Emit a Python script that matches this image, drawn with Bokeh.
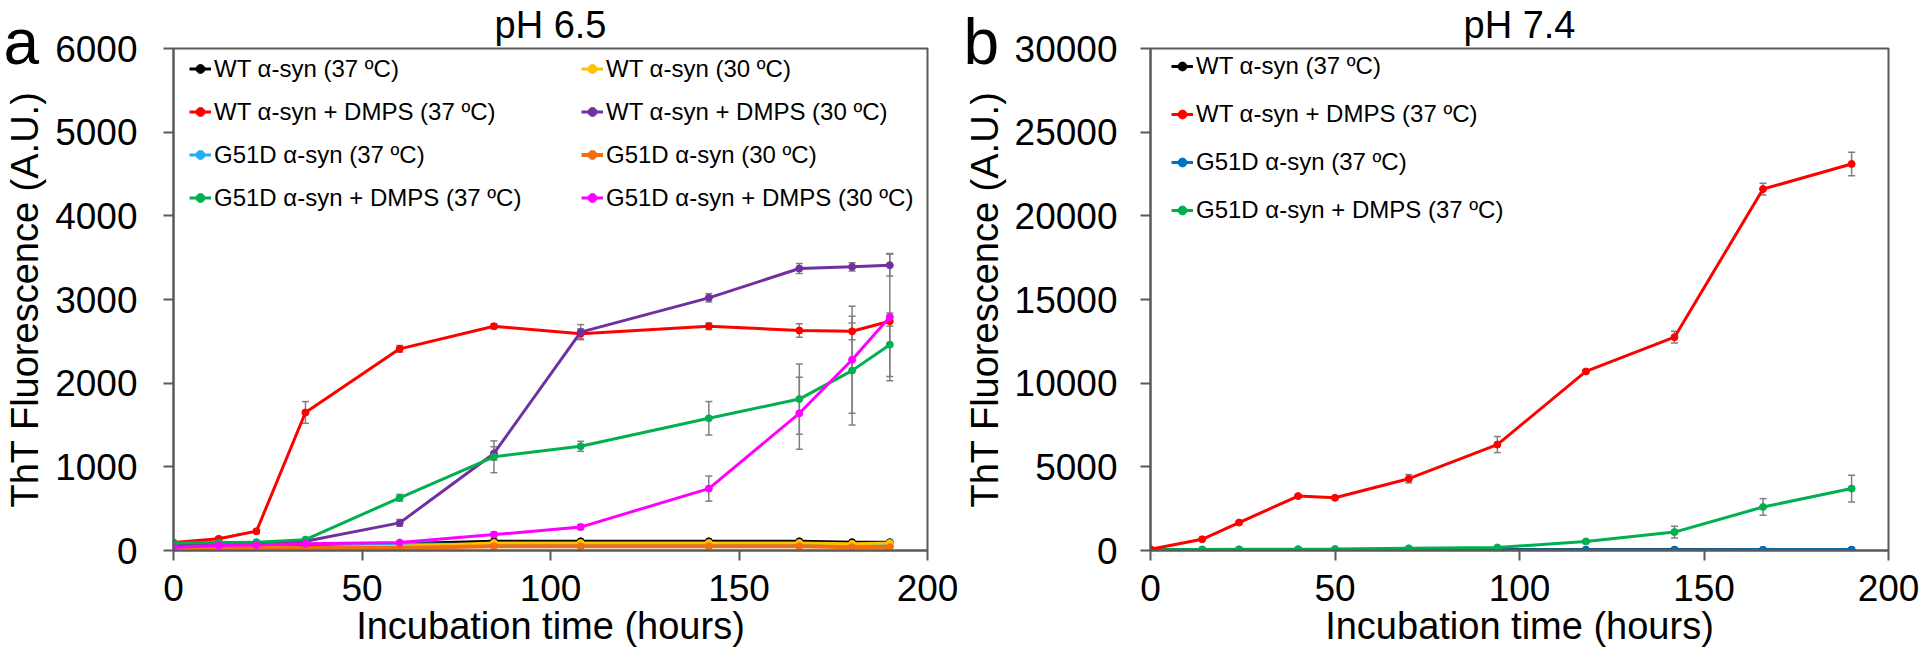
from bokeh.plotting import figure
from bokeh.models import (Range1d, Legend, LegendItem, Whisker, ColumnDataSource,
                          Title, TeeHead, FixedTicker)
from bokeh.layouts import row
from bokeh.embed import file_html
from bokeh.resources import INLINE

# ---------------- data: panel a (pH 6.5) ----------------
time_a = [0, 12, 22, 35, 60, 85, 108, 142, 166, 180, 190]
wt37_a = [60, 70, 70, 70, 80, 110, 110, 110, 110, 100, 100]
wt30_a = [30, 40, 40, 40, 50, 90, 90, 90, 90, 80, 90]
wt_dmps37_a = [95, 140, 230, 1650, 2410, 2680, 2590, 2680, 2630, 2620, 2740]
wt_dmps37_a_err = [20, 20, 20, 130, 40, 30, 60, 40, 80, 100, 60]
wt_dmps30_a = [70, 85, 90, 110, 330, 1160, 2610, 3020, 3370, 3390, 3410]
wt_dmps30_a_err = [10, 10, 10, 20, 40, 80, 90, 50, 60, 50, 130]
g51d37_a = [70, 75, 75, 80, 80, 70, 60, 60, 60, 60, 60]
g51d30_a = [20, 25, 25, 30, 30, 50, 50, 50, 50, 40, 40]
g51d_dmps37_a = [90, 95, 100, 130, 630, 1120, 1245, 1580, 1810, 2150, 2460]
g51d_dmps37_a_err = [10, 10, 10, 20, 40, 190, 60, 200, 420, 650, 380]
g51d_dmps30_a = [40, 60, 65, 80, 95, 190, 280, 740, 1640, 2280, 2790]
g51d_dmps30_a_err = [10, 10, 10, 10, 20, 30, 30, 150, 430, 640, 760]

# ---------------- data: panel b (pH 7.4) ----------------
time_b = [0, 14, 24, 40, 50, 70, 94, 118, 142, 166, 190]
wt37_b = [40, 40, 40, 40, 40, 40, 40, 40, 40, 40, 40]
wt_dmps37_b = [80, 670, 1670, 3250, 3150, 4290, 6330, 10700, 12750, 21600, 23100]
wt_dmps37_b_err = [30, 60, 60, 80, 80, 250, 480, 100, 350, 350, 700]
g51d37_b = [30, 30, 30, 30, 30, 30, 30, 30, 30, 40, 40]
g51d_dmps37_b = [50, 60, 70, 80, 90, 130, 180, 540, 1100, 2600, 3700]
g51d_dmps37_b_err = [10, 10, 10, 10, 10, 20, 30, 80, 350, 500, 800]

x_ticks = [0, 50, 100, 150, 200]
y_ticks_a = [0, 1000, 2000, 3000, 4000, 5000, 6000]
y_ticks_b = [0, 5000, 10000, 15000, 20000, 25000, 30000]

FONT = "Liberation Sans"
AX = "#595959"
GRAY = "#808080"


def make_fig(title, panel_letter, letter_offset, ymax, yticks, mbl, mbr, mbt, mbb, ylab_standoff):
    p = figure(width=960, height=664, x_range=Range1d(0, 200), y_range=Range1d(0, ymax),
               output_backend="svg", toolbar_location=None,
               min_border_left=mbl, min_border_right=mbr,
               min_border_top=mbt, min_border_bottom=mbb)
    # panel title (outermost in the "above" panel)
    p.title.text = title
    p.title.align = "center"
    p.title.text_font = FONT
    p.title.text_font_size = "38px"
    p.title.text_font_style = "normal"
    p.title.text_color = "black"
    p.title.standoff = -19
    # panel letter (closest to the frame, little room taken)
    p.add_layout(Title(text=panel_letter, align="left", offset=letter_offset,
                       vertical_align="top", standoff=-62, text_font=FONT,
                       text_font_size="64px", text_font_style="normal",
                       text_color="black"), "above")
    p.xgrid.visible = False
    p.ygrid.visible = False
    p.outline_line_color = AX
    p.outline_line_width = 2
    p.background_fill_color = "white"
    p.border_fill_color = "white"
    p.xaxis.ticker = FixedTicker(ticks=x_ticks)
    p.yaxis.ticker = FixedTicker(ticks=yticks)
    for ax in (p.xaxis[0], p.yaxis[0]):
        ax.axis_line_color = AX
        ax.axis_line_width = 2
        ax.major_tick_line_color = AX
        ax.major_tick_line_width = 2
        ax.major_tick_in = 0
        ax.major_tick_out = 10
        ax.minor_tick_line_color = None
        ax.major_label_text_font = FONT
        ax.major_label_text_font_size = "37px"
        ax.major_label_text_color = "black"
        ax.axis_label_text_font = FONT
        ax.axis_label_text_font_size = "38px"
        ax.axis_label_text_font_style = "normal"
        ax.axis_label_text_color = "black"
    p.xaxis.axis_label = "Incubation time (hours)"
    p.xaxis.major_label_standoff = 14
    p.xaxis.axis_label_standoff = 1
    p.yaxis.axis_label = "ThT Fluorescence (A.U.)"
    p.yaxis.major_label_standoff = ylab_standoff
    p.yaxis.axis_label_standoff = 6
    return p


def series(p, x, y, color, err=None, lw=3):
    if err is not None:
        src = ColumnDataSource(dict(x=x, upper=[a + b for a, b in zip(y, err)],
                                    lower=[a - b for a, b in zip(y, err)]))
        w = Whisker(source=src, base="x", upper="upper", lower="lower",
                    line_color=GRAY, line_width=1.5,
                    upper_head=TeeHead(size=7, line_color=GRAY, line_width=1.5),
                    lower_head=TeeHead(size=7, line_color=GRAY, line_width=1.5))
        p.add_layout(w)
    r1 = p.line(x, y, line_color=color, line_width=lw)
    r2 = p.scatter(x, y, marker="circle", size=7, fill_color=color, line_color=color)
    return [r1, r2]


def style_legend(leg, h):
    leg.label_text_font = FONT
    leg.label_text_font_size = "24px"
    leg.label_text_color = "black"
    leg.glyph_width = 22
    leg.glyph_height = h
    leg.label_height = h
    leg.label_standoff = 3
    leg.spacing = 0
    leg.padding = 0
    leg.margin = 0
    leg.border_line_alpha = 0
    leg.background_fill_alpha = 0


# ---------------- panel a ----------------
pa = make_fig("pH 6.5", "a", -170, 6000, y_ticks_a, 173, 33, 48, 112, 26)
ra_wt37 = series(pa, time_a, wt37_a, "#000000")
ra_g37 = series(pa, time_a, g51d37_a, "#20b0ee")
ra_wt30 = series(pa, time_a, wt30_a, "#ffc000")
ra_g30 = series(pa, time_a, g51d30_a, "#f07010", lw=4)
ra_wtd37 = series(pa, time_a, wt_dmps37_a, "#ff0000", wt_dmps37_a_err)
ra_wtd30 = series(pa, time_a, wt_dmps30_a, "#7030a0", wt_dmps30_a_err)
ra_gd37 = series(pa, time_a, g51d_dmps37_a, "#00b050", g51d_dmps37_a_err)
ra_gd30 = series(pa, time_a, g51d_dmps30_a, "#ff00ff", g51d_dmps30_a_err)

leg_a1 = Legend(items=[
    LegendItem(label="WT α-syn (37 ºC)", renderers=ra_wt37),
    LegendItem(label="WT α-syn + DMPS (37 ºC)", renderers=ra_wtd37),
    LegendItem(label="G51D α-syn (37 ºC)", renderers=ra_g37),
    LegendItem(label="G51D α-syn + DMPS (37 ºC)", renderers=ra_gd37),
], location=(16, 331))
leg_a2 = Legend(items=[
    LegendItem(label="WT α-syn (30 ºC)", renderers=ra_wt30),
    LegendItem(label="WT α-syn + DMPS (30 ºC)", renderers=ra_wtd30),
    LegendItem(label="G51D α-syn (30 ºC)", renderers=ra_g30),
    LegendItem(label="G51D α-syn + DMPS (30 ºC)", renderers=ra_gd30),
], location=(408, 331))
for lg in (leg_a1, leg_a2):
    style_legend(lg, 43)
    pa.add_layout(lg)

# ---------------- panel b ----------------
pb = make_fig("pH 7.4", "b", -187, 30000, y_ticks_b, 189, 32, 46, 114, 23)
rb_wt37 = series(pb, time_b, wt37_b, "#000000")
rb_g37 = series(pb, time_b, g51d37_b, "#0070c0")
rb_gd37 = series(pb, time_b, g51d_dmps37_b, "#00b050", g51d_dmps37_b_err)
rb_wtd37 = series(pb, time_b, wt_dmps37_b, "#ff0000", wt_dmps37_b_err)

leg_b = Legend(items=[
    LegendItem(label="WT α-syn (37 ºC)", renderers=rb_wt37),
    LegendItem(label="WT α-syn + DMPS (37 ºC)", renderers=rb_wtd37),
    LegendItem(label="G51D α-syn (37 ºC)", renderers=rb_g37),
    LegendItem(label="G51D α-syn + DMPS (37 ºC)", renderers=rb_gd37),
], location=(21, 316))
style_legend(leg_b, 48)
pb.add_layout(leg_b)

layout = row(pa, pb)
open("out.html", "w").write(file_html(layout, INLINE))
